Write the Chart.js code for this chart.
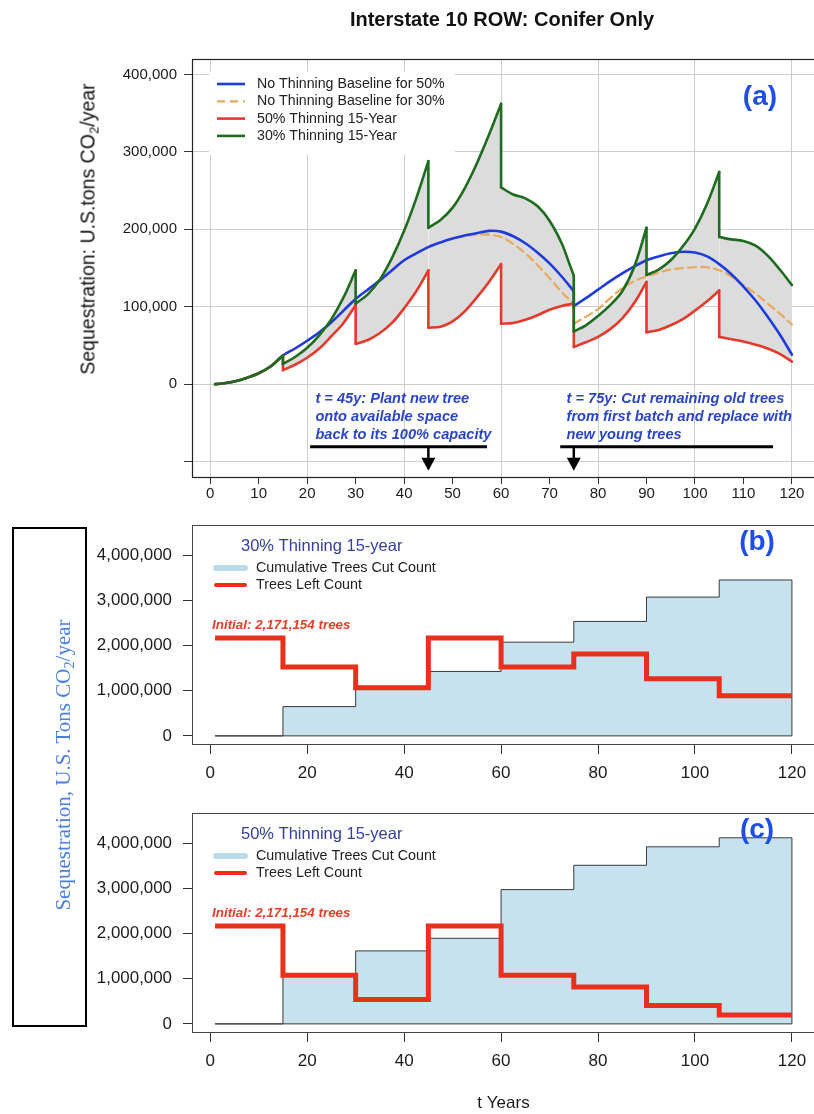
<!DOCTYPE html>
<html>
<head>
<meta charset="utf-8">
<script src="https://cdn.jsdelivr.net/npm/chart.js@4.4.1/dist/chart.umd.min.js"></script>
<style>
  html, body { margin: 0; padding: 0; background: #fff; overflow: hidden; }
  #page { position: relative; width: 814px; height: 1114px; overflow: hidden; background: #fff;
          font-family: 'Liberation Sans', Arial, sans-serif; }
  canvas { position: absolute; left: 0; }
  .title { position: absolute; left: 502px; top: 19px; transform: translate(-50%, -50%);
           font-weight: bold; font-size: 20px; color: #111; white-space: nowrap; }
  .ylab { position: absolute; left: 88px; top: 229px; transform: translate(-50%, -50%) rotate(-90deg);
          font-size: 19.5px; color: #111; white-space: nowrap; }
  .side { position: absolute; left: 12px; top: 527px; width: 75px; height: 500px;
          border: 2px solid #000; box-sizing: border-box; }
  .sidetxt { position: absolute; left: 63px; top: 765px; transform: translate(-50%, -50%) rotate(-90deg);
             font-family: 'Liberation Serif', 'Times New Roman', serif; font-size: 21px; color: #4b7fdf;
             white-space: nowrap; }
  sub { font-size: 0.68em; vertical-align: -0.3em; line-height: 0; }
</style>
</head>
<body>
<div id="page">
  <canvas id="chartA" width="820" height="510" style="top:0px"></canvas>
  <canvas id="chartB" width="820" height="290" style="top:500px"></canvas>
  <canvas id="chartC" width="820" height="324" style="top:790px"></canvas>
  <div class="title">Interstate 10 ROW: Conifer Only</div>
  <div class="ylab">Sequestration: U.S.tons CO<sub>2</sub>/year</div>
  <div class="side"></div>
  <div class="sidetxt">Sequestration, U.S. Tons CO<sub>2</sub>/year</div>
</div>
<script>
// ---------- panel (a): annual sequestration, [year, U.S. tons CO2/year] ----------
// a repeated year marks a harvest/replant step: value just before, then just after
const baseline50 = [[1,0],[2.5,800],[5,3500],[7.5,8000],[10,14000],[12.5,23000],[15,37000],[17.5,46000],
  [20,56000],[22.5,67000],[25,80000],[27.5,95000],[30,110000],[32.5,122000],[35,134000],[37.5,147000],
  [40,160000],[42.5,169000],[45,177000],[47.5,183000],[50,188000],[52.5,192000],[55,195000],[57.5,198000],
  [60,197000],[62.5,191000],[65,182000],[67.5,170000],[70,156000],[72.5,139000],[75,120000],[75,101000],
  [77.5,111000],[80,122000],[82.5,133000],[85,143000],[87.5,152000],[90,160000],[92.5,165000],[95,169000],
  [97.5,171000],[100,170000],[102.5,165000],[105,155000],[107.5,142000],[110,126000],[112.5,108000],
  [115,87000],[117.5,64000],[120,38000]];

const baseline30 = [[1,0],[2.5,800],[5,3500],[7.5,8000],[10,14000],[12.5,23000],[15,37000],[17.5,46000],
  [20,56000],[22.5,67000],[25,80000],[27.5,95000],[30,110000],[32.5,122000],[35,134000],[37.5,147000],
  [40,160000],[42.5,169000],[45,177000],[47.5,183000],[50,188000],[52.5,191000],[55,193000],[57.5,193000],
  [60,190000],[62.5,181000],[65,169000],[67.5,154000],[70,137000],[72.5,119000],[75,104000],[75,78000],
  [77.5,87000],[80,97000],[82.5,111000],[85,124000],[87.5,133000],[90,139000],[92.5,144000],[95,148000],
  [97.5,150000],[100,151000],[102.5,151000],[105,147000],[107.5,139000],[110,128000],[112.5,117000],
  [115,104000],[117.5,91000],[120,77000]];

const thin50 = [[1,0],[2.5,800],[5,3500],[7.5,8000],[10,14000],[12.5,23000],[15,37000],[15,18000],
  [17.5,25000],[20,34000],[22.5,46000],[25,62000],[27.5,79000],[30,102000],[30,52000],[32.5,57000],
  [35,66000],[37.5,79000],[40,98000],[42.5,120000],[45,147000],[45,73000],[47.5,74000],[50,81000],
  [52.5,94000],[55,112000],[57.5,132000],[60,155000],[60,78000],[62.5,79000],[65,83000],[67.5,89000],
  [70,96000],[72.5,101000],[75,104000],[75,48000],[77.5,54000],[80,61000],[82.5,71000],[85,85000],
  [87.5,105000],[90,132000],[90,67000],[92.5,70000],[95,76000],[97.5,84000],[100,95000],[102.5,107000],
  [105,121000],[105,61000],[107.5,58000],[110,55000],[112.5,51000],[115,46000],[117.5,39000],[120,29000]];

const thin30 = [[1,0],[2.5,800],[5,3500],[7.5,8000],[10,14000],[12.5,23000],[15,37000],[15,26000],
  [17.5,35000],[20,47000],[22.5,63000],[25,84000],[27.5,112000],[30,147000],[30,104000],[32.5,116000],
  [35,135000],[37.5,163000],[40,198000],[42.5,240000],[45,288000],[45,202000],[47.5,212000],[50,228000],
  [52.5,253000],[55,285000],[57.5,322000],[60,362000],[60,254000],[62.5,245000],[65,240000],[67.5,230000],
  [70,211000],[72.5,182000],[74,157000],[75,140000],[75,68000],[77.5,76000],[80,88000],[82.5,102000],
  [85,120000],[87.5,152000],[90,202000],[90,141000],[92.5,148000],[95,160000],[97.5,178000],[100,201000],
  [102.5,233000],[105,274000],[105,190000],[107.5,187000],[110,185000],[112.5,179000],[115,166000],
  [117.5,148000],[120,128000]];

const xTicksA = [0,10,20,30,40,50,60,70,80,90,100,110,120];
const yTicksA = [-100000,0,100000,200000,300000,400000];

// ---------- panels (b) and (c): tree counts per 15-year interval ----------
const initialTrees = 2171154;
const cutYears = [1, 15, 30, 45, 60, 75, 90, 105];
const endYear = 120;
const cumCut30 = [0, 650000, 1100000, 1430000, 2080000, 2540000, 3080000, 3460000];
const treesLeft30 = [initialTrees, 1530000, 1070000, initialTrees, 1530000, 1820000, 1270000, 890000];
const cumCut50 = [0, 1080000, 1620000, 1900000, 2980000, 3520000, 3930000, 4130000];
const treesLeft50 = [initialTrees, 1080000, 540000, initialTrees, 1080000, 820000, 410000, 200000];
const xTicksB = [0,20,40,60,80,100,120];
const yTicksB = [0,1000000,2000000,3000000,4000000];

Chart.defaults.font.family = "'Liberation Sans', Arial, sans-serif";
Chart.defaults.color = '#1a1a1a';

// Smooth stretches are separated by gaps at each step year; the vertical
// drops themselves go into a second, straight-line series.
function splitAtSteps(pairs) {
  const curve = [], drops = [];
  pairs.forEach(([t, v], i) => {
    if (i > 0 && pairs[i - 1][0] === t) {
      curve.push({ x: t, y: null });
      drops.push({ x: t, y: pairs[i - 1][1] }, { x: t, y: v }, { x: t, y: null });
    }
    curve.push({ x: t, y: v });
  });
  return { curve, drops };
}
function stepLine(years, values, end) {
  const pts = years.map((t, i) => ({ x: t, y: values[i] }));
  pts.push({ x: end, y: values[values.length - 1] });
  return pts;
}
function stepArea(years, values, end) {
  const pts = stepLine(years, values, end);
  pts.push({ x: end, y: 0 }, { x: years[0], y: 0 });
  return pts;
}
const fmt = v => v.toLocaleString('en-US');

// box around the plotting region
const framePlugin = {
  id: 'frame',
  afterDraw(chart, args, o) {
    const { ctx, chartArea: a } = chart;
    ctx.save();
    ctx.strokeStyle = o.color || '#333';
    ctx.lineWidth = o.width || 1;
    ctx.strokeRect(Math.round(a.left) + 0.5, Math.round(a.top) + 0.5, a.right - a.left, a.bottom - a.top);
    ctx.restore();
  }
};

// free text, bars and arrows placed in data coordinates
const notesPlugin = {
  id: 'notes',
  afterDatasetsDraw(chart, args, o) {
    const { ctx, scales: { x, y } } = chart;
    ctx.save();
    for (const it of (o.items || [])) {
      ctx.fillStyle = it.color; ctx.strokeStyle = it.color;
      if (it.type === 'text') {
        ctx.font = it.font; ctx.textAlign = it.align || 'left'; ctx.textBaseline = 'middle';
        ctx.fillText(it.text, x.getPixelForValue(it.x), y.getPixelForValue(it.y));
      } else if (it.type === 'bar') {
        ctx.lineWidth = it.width; ctx.lineCap = 'butt';
        const py = y.getPixelForValue(it.y);
        ctx.beginPath(); ctx.moveTo(x.getPixelForValue(it.x1), py); ctx.lineTo(x.getPixelForValue(it.x2), py); ctx.stroke();
      } else if (it.type === 'arrow') {
        const px = x.getPixelForValue(it.x), y1 = y.getPixelForValue(it.from), y2 = y.getPixelForValue(it.to);
        ctx.lineWidth = it.width;
        ctx.beginPath(); ctx.moveTo(px, y1); ctx.lineTo(px, y2 - it.head + 1); ctx.stroke();
        ctx.beginPath();
        ctx.moveTo(px - it.headWidth / 2, y2 - it.head); ctx.lineTo(px + it.headWidth / 2, y2 - it.head);
        ctx.lineTo(px, y2); ctx.closePath(); ctx.fill();
      }
    }
    ctx.restore();
  }
};

// series key drawn from the datasets' own labels and styles
const keyPlugin = {
  id: 'key',
  afterDatasetsDraw(chart, args, o) {
    if (!o || o.rowY === undefined) return;
    const { ctx, chartArea: a } = chart;
    ctx.save();
    if (o.box) {
      ctx.fillStyle = '#fff';
      ctx.fillRect(a.left + o.box[0], a.top + o.box[1], o.box[2], o.box[3]);
    }
    ctx.textAlign = 'left'; ctx.textBaseline = 'middle';
    if (o.title) {
      ctx.font = o.titleFont; ctx.fillStyle = o.titleColor;
      ctx.fillText(o.title, a.left + o.titleX, a.top + o.titleY);
    }
    chart.data.datasets.filter(ds => ds.inKey !== false).forEach((ds, i) => {
      const yy = a.top + o.rowY + i * o.rowGap;
      ctx.beginPath();
      ctx.strokeStyle = ds.swatchColor || ds.borderColor;
      ctx.lineWidth = ds.swatchWidth || ds.borderWidth;
      ctx.lineCap = o.cap || 'butt';
      ctx.setLineDash(ds.borderDash || []);
      ctx.moveTo(a.left + o.swatchX1, yy); ctx.lineTo(a.left + o.swatchX2, yy); ctx.stroke();
      ctx.setLineDash([]);
      ctx.font = o.font; ctx.fillStyle = o.color;
      ctx.fillText(ds.label, a.left + o.textX, yy);
    });
    ctx.restore();
  }
};

const common = { responsive: false, animation: false, devicePixelRatio: 1, events: [] };

// ---------------- panel (a) ----------------
const seriesA = [
  { label: 'No Thinning Baseline for 50%', pairs: baseline50, color: '#1f3bdc', width: 2.6, order: 2 },
  { label: 'No Thinning Baseline for 30%', pairs: baseline30, color: '#e8a95c', width: 2.2, order: 3, dash: [8, 5] },
  { label: '50% Thinning 15-Year', pairs: thin50, color: '#e33a2c', width: 2.6, order: 1 },
  { label: '30% Thinning 15-Year', pairs: thin30, color: '#1f6b1f', width: 2.6, order: 0, fillTo: 2 }
];
const datasetsA = [];
seriesA.forEach(s => {
  const { curve } = splitAtSteps(s.pairs);
  datasetsA.push({
    label: s.label, data: curve, borderColor: s.color, borderWidth: s.width, borderDash: s.dash || [],
    order: s.order, tension: 0.35, spanGaps: false,
    fill: s.fillTo === undefined ? false : s.fillTo, backgroundColor: '#dcdcdc'
  });
});
seriesA.forEach(s => {
  const { drops } = splitAtSteps(s.pairs);
  datasetsA.push({
    label: s.label, data: drops, borderColor: s.color, borderWidth: s.width, borderDash: s.dash || [],
    order: s.order, tension: 0, spanGaps: false, fill: false, inKey: false
  });
});

new Chart(document.getElementById('chartA'), {
  type: 'line',
  data: { datasets: datasetsA },
  options: {
    ...common,
    layout: { padding: { top: 59, right: 5, bottom: 0, left: 0 } },
    elements: { point: { radius: 0 }, line: { borderJoinStyle: 'round', borderCapStyle: 'round', capBezierPoints: true } },
    scales: {
      x: {
        type: 'linear', min: -3.76, max: 124.76,
        afterBuildTicks: s => { s.ticks = xTicksA.map(v => ({ value: v })); },
        afterFit: s => { s.height = 33; },
        border: { display: false },
        grid: { drawOnChartArea: true, lineWidth: 1, tickLength: 7, tickColor: '#333',
                color: c => (c.tick && c.tick.value % 20 === 0) ? '#cdcdcd' : 'rgba(0,0,0,0)' },
        ticks: { font: { size: 15 }, padding: 1, maxRotation: 0, autoSkip: false, color: '#1a1a1a' }
      },
      y: {
        type: 'linear', min: -120000, max: 420000,
        afterBuildTicks: s => { s.ticks = yTicksA.map(v => ({ value: v })); },
        afterFit: s => { s.width = 192; },
        border: { display: false },
        grid: { drawOnChartArea: true, color: '#cdcdcd', lineWidth: 1, tickLength: 8, tickColor: '#333' },
        ticks: { font: { size: 15 }, padding: 7, color: '#1a1a1a', callback: v => v < 0 ? '' : fmt(v) }
      }
    },
    plugins: {
      legend: { display: false }, tooltip: { enabled: false },
      filler: { drawTime: 'beforeDatasetsDraw' },
      frame: { color: '#222', width: 1.2 },
      key: { box: [17, 13, 246, 83], rowY: 25, rowGap: 17.3, swatchX1: 25, swatchX2: 53, textX: 65,
             font: '14.2px "Liberation Sans", Arial, sans-serif', color: '#222' },
      notes: { items: [
        { type: 'text', text: '(a)', x: 113.4, y: 371000, align: 'center', color: '#1f4ee6',
          font: 'bold 28px "Liberation Sans", Arial, sans-serif' },
        { type: 'text', text: 't = 45y: Plant new tree', x: 21.7, y: -19000, color: '#2b46c2',
          font: 'italic bold 14.6px "Liberation Sans", Arial, sans-serif' },
        { type: 'text', text: 'onto available space', x: 21.7, y: -42300, color: '#2b46c2',
          font: 'italic bold 14.6px "Liberation Sans", Arial, sans-serif' },
        { type: 'text', text: 'back to its 100% capacity', x: 21.7, y: -65500, color: '#2b46c2',
          font: 'italic bold 14.6px "Liberation Sans", Arial, sans-serif' },
        { type: 'bar', x1: 20.6, x2: 57.1, y: -81000, width: 3, color: '#000' },
        { type: 'arrow', x: 45, from: -81000, to: -112000, width: 2.5, head: 13, headWidth: 14, color: '#000' },
        { type: 'text', text: 't = 75y: Cut remaining old trees', x: 73.5, y: -19000, color: '#2b46c2',
          font: 'italic bold 14.6px "Liberation Sans", Arial, sans-serif' },
        { type: 'text', text: 'from first batch and replace with', x: 73.5, y: -42300, color: '#2b46c2',
          font: 'italic bold 14.6px "Liberation Sans", Arial, sans-serif' },
        { type: 'text', text: 'new young trees', x: 73.5, y: -65500, color: '#2b46c2',
          font: 'italic bold 14.6px "Liberation Sans", Arial, sans-serif' },
        { type: 'bar', x1: 72.2, x2: 116.1, y: -81000, width: 3, color: '#000' },
        { type: 'arrow', x: 75, from: -81000, to: -112000, width: 2.5, head: 13, headWidth: 14, color: '#000' }
      ] }
    }
  },
  plugins: [framePlugin, notesPlugin, keyPlugin]
});

// ---------------- panels (b) and (c) ----------------
function countChart(id, padTop, axisHeight, title, letter, cum, left, withAxisTitle) {
  return new Chart(document.getElementById(id), {
    type: 'line',
    data: {
      datasets: [
        { label: 'Cumulative Trees Cut Count', data: stepArea(cutYears, cum, endYear), stepped: true,
          borderColor: '#3a3a3a', borderWidth: 1, backgroundColor: '#c5e2ee', fill: 'shape', order: 1,
          swatchColor: '#b9dbe8', swatchWidth: 6 },
        { label: 'Trees Left Count', data: stepLine(cutYears, left, endYear), stepped: true,
          borderColor: '#e8301c', borderWidth: 5, fill: false, order: 0,
          swatchColor: '#e8301c', swatchWidth: 4 }
      ]
    },
    options: {
      ...common,
      layout: { padding: { top: padTop, right: 5, bottom: 0, left: 0 } },
      elements: { point: { radius: 0 }, line: { tension: 0, borderJoinStyle: 'miter', borderCapStyle: 'butt' } },
      scales: {
        x: {
          type: 'linear', min: -3.76, max: 124.76,
          afterBuildTicks: s => { s.ticks = xTicksB.map(v => ({ value: v })); },
          afterFit: s => { s.height = axisHeight; },
          border: { display: false },
          grid: { drawOnChartArea: false, tickLength: 10, tickColor: '#333', color: '#333' },
          ticks: { font: { size: 17 }, padding: 9, maxRotation: 0, autoSkip: false, color: '#1a1a1a' },
          title: { display: withAxisTitle, text: 't Years', font: { size: 17 }, color: '#1a1a1a',
                   padding: { top: 0, bottom: 0 } }
        },
        y: {
          type: 'linear', min: -180000, max: 4680000,
          afterBuildTicks: s => { s.ticks = yTicksB.map(v => ({ value: v })); },
          afterFit: s => { s.width = 192; },
          border: { display: false },
          grid: { drawOnChartArea: false, tickLength: 9, tickColor: '#333', color: '#333' },
          ticks: { font: { size: 16.9 }, padding: 11, color: '#1a1a1a', callback: v => fmt(v) }
        }
      },
      plugins: {
        legend: { display: false }, tooltip: { enabled: false },
        frame: { color: '#444', width: 1 },
        key: { title: title, titleX: 49, titleY: 21, titleColor: '#34409a',
               titleFont: '16.5px "Liberation Sans", Arial, sans-serif',
               rowY: 43, rowGap: 17, swatchX1: 24, swatchX2: 53, textX: 64, cap: 'round',
               font: '14.3px "Liberation Sans", Arial, sans-serif', color: '#222' },
        notes: { items: [
          { type: 'text', text: letter, x: 112.8, y: 4300000, align: 'center', color: '#1f4ee6',
            font: 'bold 28px "Liberation Sans", Arial, sans-serif' },
          { type: 'text', text: 'Initial: ' + fmt(initialTrees) + ' trees', x: 0.37, y: 2460000,
            color: '#e2412b', font: 'italic bold 13.4px "Liberation Sans", Arial, sans-serif' }
        ] }
      }
    },
    plugins: [framePlugin, notesPlugin, keyPlugin]
  });
}

countChart('chartB', 25, 46, '30% Thinning 15-year', '(b)', cumCut30, treesLeft30, false);
countChart('chartC', 23, 82, '50% Thinning 15-year', '(c)', cumCut50, treesLeft50, true);
</script>
</body>
</html>
